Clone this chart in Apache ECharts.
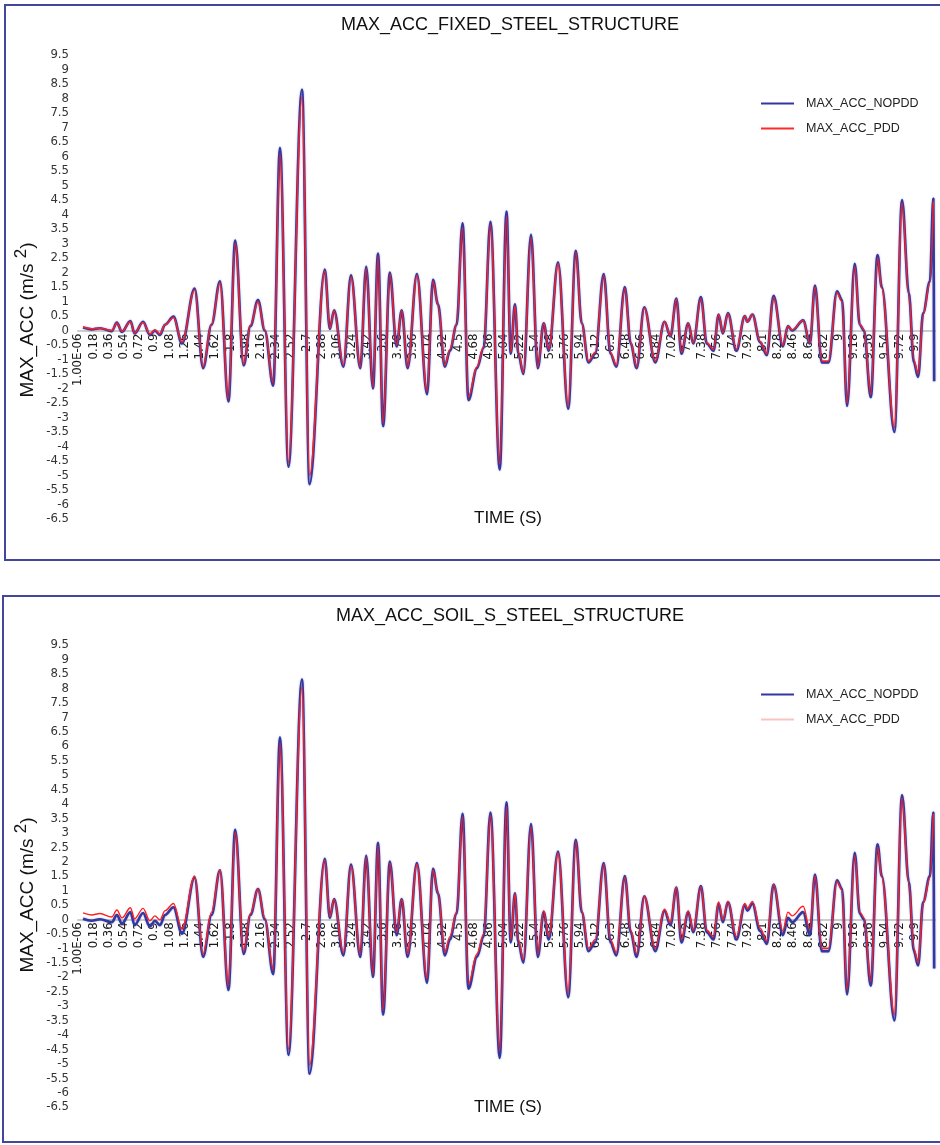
<!DOCTYPE html>
<html><head><meta charset="utf-8">
<script src="https://cdn.jsdelivr.net/npm/echarts@6/dist/echarts.min.js"></script>
<style>html,body{margin:0;padding:0;background:#fff;overflow:hidden}#c{width:940px;height:1145px}</style>
</head><body><div id="c"></div>
<script>
// ---------- data ----------
const PANEL_TITLES = ['MAX_ACC_FIXED_STEEL_STRUCTURE', 'MAX_ACC_SOIL_S_STEEL_STRUCTURE'];
const SERIES_NAMES = ['MAX_ACC_NOPDD', 'MAX_ACC_PDD'];
const X_NAME = 'TIME (S)';
const Y_NAME_MAIN = 'MAX_ACC (m/s';
const Y_NAME_SUP = '2';
const X_FIRST_LABEL = '1.00E-06';
const X_TICK_STEP = 0.18;
const X_LAST_LABEL = 9.9;
const Y_MIN = -6.5, Y_MAX = 9.5, Y_STEP = 0.5;

// time (s) of each read point
const TIME_S = [
  0.06,0.16,0.26,0.40,0.46,0.52,0.62,0.67,0.77,0.85,
  0.91,0.97,1.03,1.13,1.23,1.38,1.48,1.58,1.68,1.78,
  1.86,1.96,2.04,2.13,2.21,2.31,2.39,2.49,2.65,2.74,
  2.92,2.98,3.03,3.14,3.23,3.34,3.41,3.49,3.55,3.61,
  3.69,3.77,3.83,3.90,4.01,4.13,4.20,4.26,4.34,4.40,
  4.48,4.55,4.62,4.72,4.80,4.88,4.99,5.07,5.12,5.17,
  5.21,5.27,5.36,5.44,5.51,5.57,5.68,5.80,5.89,5.96,
  6.04,6.12,6.22,6.30,6.37,6.47,6.54,6.61,6.70,6.83,
  6.94,7.01,7.08,7.14,7.22,7.28,7.37,7.44,7.52,7.58,
  7.63,7.69,7.79,7.89,7.92,7.98,8.07,8.15,8.23,8.34,
  8.40,8.45,8.58,8.66,8.72,8.80,8.88,8.98,9.04,9.10,
  9.19,9.25,9.30,9.38,9.46,9.51,9.66,9.75,9.83,9.89,
  9.94,10.00,10.08,10.12,10.13
];

// Fixed base
const FIXED_NOPDD = [
  0.10,0.04,0.08,-0.02,0.27,-0.05,0.33,-0.10,0.30,-0.15,
  0.00,-0.15,0.20,0.48,-0.45,1.45,-1.30,0.20,1.70,-2.45,
  3.10,-1.20,0.15,1.05,0.00,-1.90,6.30,-4.70,8.30,-5.30,
  2.10,0.05,0.70,-1.25,1.90,-1.30,2.20,-2.00,2.65,-3.30,
  2.00,-0.55,0.70,-1.30,1.95,-2.20,1.75,0.90,-1.25,-0.70,
  0.20,3.70,-2.40,-1.30,-0.60,3.75,-4.80,4.10,-0.80,0.90,
  -0.80,-1.50,3.30,-1.30,0.25,-0.70,2.35,-2.70,2.75,0.25,
  -1.10,-0.80,1.95,-0.80,-1.25,1.50,-0.45,-1.30,0.80,-1.10,
  0.30,-0.20,1.10,-0.80,0.25,-0.45,1.15,-0.45,-0.70,0.55,
  -0.10,0.60,-0.70,0.50,0.30,0.55,-0.40,-0.85,1.20,-0.55,
  0.15,0.00,0.35,-0.45,1.55,-1.10,-1.10,1.35,1.05,-2.60,
  2.30,0.20,0.00,-2.30,2.60,1.50,-3.50,4.50,1.30,-1.10,
  -1.60,0.60,1.70,4.55,-1.75
];
const FIXED_PDD = [
  0.12,0.06,0.08,0.00,0.25,-0.03,0.30,-0.08,0.28,-0.12,
  0.02,-0.12,0.20,0.45,-0.40,1.40,-1.25,0.22,1.65,-2.35,
  3.00,-1.15,0.18,1.00,0.02,-1.80,6.10,-4.55,8.05,-5.00,
  2.05,0.08,0.68,-1.20,1.85,-1.25,2.15,-1.95,2.55,-3.20,
  1.95,-0.50,0.68,-1.25,1.90,-2.10,1.70,0.88,-1.20,-0.65,
  0.22,3.55,-2.30,-1.25,-0.55,3.65,-4.60,3.95,-0.75,0.85,
  -0.75,-1.45,3.20,-1.25,0.25,-0.65,2.30,-2.60,2.70,0.25,
  -1.05,-0.75,1.90,-0.75,-1.20,1.45,-0.42,-1.25,0.78,-1.05,
  0.30,-0.18,1.08,-0.75,0.25,-0.42,1.10,-0.42,-0.65,0.55,
  -0.08,0.58,-0.65,0.50,0.30,0.55,-0.38,-0.80,1.15,-0.50,
  0.15,0.02,0.35,-0.42,1.50,-1.05,-1.05,1.30,1.00,-2.50,
  2.20,0.22,0.02,-2.20,2.50,1.45,-3.35,4.40,1.25,-1.00,
  -1.50,0.55,1.65,4.45,null
];

// Soil S base
const SOIL_NOPDD = [
  0.02,-0.05,0.00,-0.10,0.15,-0.15,0.25,-0.20,0.22,-0.25,
  -0.05,-0.20,0.15,0.42,-0.50,1.45,-1.30,0.15,1.70,-2.45,
  3.10,-1.20,0.15,1.05,0.00,-1.90,6.30,-4.70,8.30,-5.35,
  2.10,0.05,0.70,-1.25,1.90,-1.30,2.20,-2.00,2.65,-3.30,
  2.00,-0.55,0.70,-1.30,1.95,-2.20,1.75,0.90,-1.25,-0.70,
  0.20,3.65,-2.40,-1.30,-0.60,3.70,-4.80,4.05,-0.80,0.90,
  -0.80,-1.50,3.30,-1.30,0.25,-0.70,2.35,-2.70,2.75,0.25,
  -1.10,-0.80,1.95,-0.80,-1.25,1.50,-0.45,-1.30,0.80,-1.10,
  0.30,-0.20,1.10,-0.80,0.25,-0.45,1.15,-0.45,-0.70,0.55,
  -0.10,0.60,-0.70,0.50,0.30,0.55,-0.40,-0.85,1.20,-0.55,
  0.05,-0.10,0.25,-0.55,1.55,-1.10,-1.10,1.35,1.05,-2.60,
  2.30,0.20,0.00,-2.30,2.60,1.50,-3.50,4.30,1.30,-1.10,
  -1.60,0.60,1.50,3.70,-1.70
];
const SOIL_PDD = [
  0.22,0.15,0.20,0.08,0.32,0.05,0.40,0.02,0.38,-0.05,
  0.12,-0.02,0.30,0.55,-0.35,1.50,-1.20,0.25,1.70,-2.30,
  3.00,-1.10,0.20,1.05,0.05,-1.75,6.10,-4.50,8.05,-5.05,
  2.05,0.10,0.70,-1.15,1.85,-1.20,2.15,-1.90,2.55,-3.15,
  1.95,-0.45,0.70,-1.20,1.90,-2.05,1.70,0.90,-1.15,-0.60,
  0.25,3.55,-2.25,-1.20,-0.50,3.60,-4.55,3.90,-0.70,0.88,
  -0.70,-1.40,3.20,-1.20,0.30,-0.60,2.30,-2.55,2.70,0.30,
  -1.00,-0.70,1.90,-0.70,-1.15,1.45,-0.38,-1.20,0.80,-1.00,
  0.35,-0.12,1.10,-0.70,0.30,-0.38,1.12,-0.38,-0.60,0.60,
  -0.02,0.62,-0.60,0.55,0.38,0.62,-0.30,-0.75,1.20,-0.40,
  0.25,0.12,0.45,-0.35,1.50,-1.00,-1.00,1.30,1.00,-2.45,
  2.20,0.25,0.05,-2.15,2.50,1.45,-3.30,4.20,1.25,-1.00,
  -1.50,0.55,1.45,3.65,null
];

// ---------- chart ----------
const FONT = "'Liberation Sans Narrow','DejaVu Sans Condensed','Liberation Sans',sans-serif";
const FONT_W = "'Liberation Sans',sans-serif";
const pairs = (ts, vs) => ts.map((t, i) => [t, vs[i]]);
const PANELS = [
  {title: PANEL_TITLES[0], nopdd: FIXED_NOPDD, pdd: FIXED_PDD, top: 55, height: 464, bx: 5, by: 5, bh: 555, legendTop: 92, pddLegend: '#ff2a2a', xNameY: 518, yNameY: 320},
  {title: PANEL_TITLES[1], nopdd: SOIL_NOPDD, pdd: SOIL_PDD, top: 645, height: 462, bx: 3, by: 596, bh: 546, legendTop: 683, pddLegend: '#f7c4c4', xNameY: 1107, yNameY: 895}
];
const GRID_LEFT = 78, PLOT_W = 857, X_MAX = 10.14;

const xLabel = v => {
  if (v === 0) return X_FIRST_LABEL;
  if (v > X_LAST_LABEL + 1e-6) return '';
  return String(parseFloat(v.toFixed(2)));
};
// move the whole x axis (line + labels) up to the zero level of the y scale
const zeroOffset = h => -h * (0 - Y_MIN) / (Y_MAX - Y_MIN);

const option = {
  animation: false,
  backgroundColor: '#fff',
  title: PANELS.map(p => ({
    text: p.title, left: 505, top: p.by + 6, textAlign: 'center',
    textStyle: {fontFamily: FONT_W, fontSize: 18, fontWeight: 'normal', color: '#111'}
  })),
  legend: PANELS.map((p, k) => ({
    orient: 'vertical', left: 755, top: p.legendTop, itemWidth: 33, itemHeight: 14, itemGap: 12,
    textStyle: {fontFamily: FONT_W, fontSize: 12.5, color: '#222', padding: [0, 0, 0, 7]},
    itemStyle: {opacity: 0},
    data: [
      {name: SERIES_NAMES[0]},
      {name: SERIES_NAMES[1], lineStyle: {color: p.pddLegend}}
    ],
    selectedMode: false
  })),
  grid: PANELS.map(p => ({left: GRID_LEFT, top: p.top, width: PLOT_W, height: p.height, outerBoundsMode: 'none'})),
  xAxis: PANELS.map((p, k) => ({
    type: 'value', gridIndex: k, min: 0, max: X_MAX, interval: X_TICK_STEP,
    position: 'bottom', offset: zeroOffset(p.height),
    axisLine: {onZero: false, lineStyle: {color: '#cdcdcd', width: 2}},
    axisTick: {show: false}, splitLine: {show: false},
    axisLabel: {rotate: 90, fontFamily: FONT, fontSize: 13, color: '#1a1a1a', margin: 3, formatter: xLabel, showMaxLabel: false}
  })),
  yAxis: PANELS.map((p, k) => ({
    type: 'value', gridIndex: k, min: Y_MIN, max: Y_MAX, interval: Y_STEP,
    axisLine: {show: false}, axisTick: {show: false}, splitLine: {show: false},
    axisLabel: {fontFamily: FONT, fontSize: 13, color: '#333', margin: 9, lineHeight: 14}
  })),
  graphic: [].concat(...PANELS.map(p => [
    {type: 'rect', shape: {x: p.bx, y: p.by, width: 980, height: p.bh},
     style: {fill: 'none', stroke: '#42469c', lineWidth: 2}, silent: true},
    {type: 'text', x: 28, y: p.yNameY, rotation: Math.PI / 2,
     style: {text: '{m|' + Y_NAME_MAIN + ' }{s|' + Y_NAME_SUP + '}{m|)}', align: 'center', verticalAlign: 'middle',
       fontFamily: FONT_W, fontSize: 19, fill: '#111',
       rich: {
         m: {fontFamily: FONT_W, fontSize: 19, lineHeight: 30, verticalAlign: 'middle', fill: '#111'},
         s: {fontFamily: FONT_W, fontSize: 17, lineHeight: 17, verticalAlign: 'top', fill: '#111'}
       }}},
    {type: 'text', x: 508, y: p.xNameY,
     style: {text: X_NAME, align: 'center', verticalAlign: 'middle', fontFamily: FONT_W, fontSize: 17, fill: '#111'}}
  ])),
  series: [].concat(...PANELS.map((p, k) => [
    {name: SERIES_NAMES[0], type: 'line', xAxisIndex: k, yAxisIndex: k, data: pairs(TIME_S, p.nopdd),
     symbol: 'none', smooth: 0.35, smoothMonotone: 'x',
     lineStyle: {color: '#3238a0', width: 2.6, shadowColor: 'rgba(60,64,170,0.45)', shadowBlur: 2},
     itemStyle: {color: '#3238a0'}},
    {name: SERIES_NAMES[1], type: 'line', xAxisIndex: k, yAxisIndex: k, data: pairs(TIME_S, p.pdd),
     symbol: 'none', smooth: 0.35, smoothMonotone: 'x',
     lineStyle: {color: '#ff1f1f', width: 1.4}, itemStyle: {color: '#ff1f1f'}}
  ]))
};

const chart = echarts.init(document.getElementById('c'), null, {renderer: 'canvas'});
chart.setOption(option);
</script>
</body></html>
